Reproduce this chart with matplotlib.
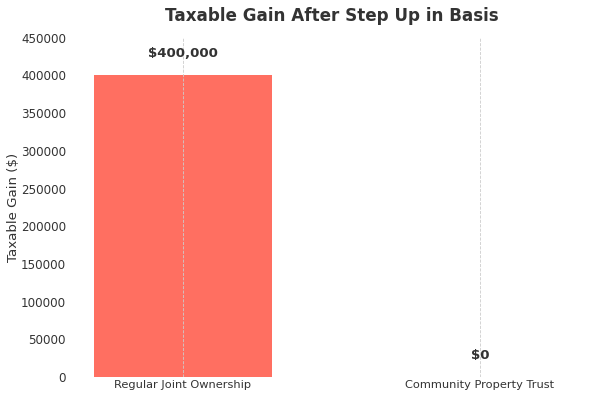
import matplotlib.pyplot as plt
import numpy as np

categories = ["Regular Joint Ownership", "Community Property Trust"]
taxable_gain = [400000, 0]
bar_colors = ["#FF6F61", "#6B5B95"]
labels = ["$400,000", "$0"]


def main():
    fig, ax = plt.subplots(figsize=(6, 3.98), dpi=100)
    fig.subplots_adjust(left=0.117, right=0.988, bottom=0.053, top=0.905)

    x = np.arange(len(categories))
    ax.bar(x, taxable_gain, width=0.6, color=bar_colors, zorder=1)

    for xi, val, lab in zip(x, taxable_gain, labels):
        ax.text(xi, val + 20000, lab, ha="center", va="bottom",
                fontsize=9.6, fontweight="bold", color="#333333")

    ax.set_xticks(x)
    ax.set_xticklabels(categories, fontsize=8.2, color="#333333")
    ax.set_ylim(0, 450000)
    ax.set_yticks(np.arange(0, 450001, 50000))
    ax.tick_params(axis="y", labelsize=8.6, colors="#333333", length=0, pad=3)
    ax.tick_params(axis="x", length=0, pad=2.5)
    ax.set_ylabel("Taxable Gain ($)", fontsize=9.6, color="#333333", labelpad=1)
    ax.set_title("Taxable Gain After Step Up in Basis", fontsize=12.1,
                 fontweight="bold", color="#333333", pad=12)

    for s in ax.spines.values():
        s.set_visible(False)
    ax.set_axisbelow(False)
    ax.grid(axis="x", linestyle="--", linewidth=0.6, color="#cccccc", zorder=2)
    ax.grid(axis="y", visible=False)

    fig.savefig("out.png", dpi=100)


if __name__ == "__main__":
    main()
